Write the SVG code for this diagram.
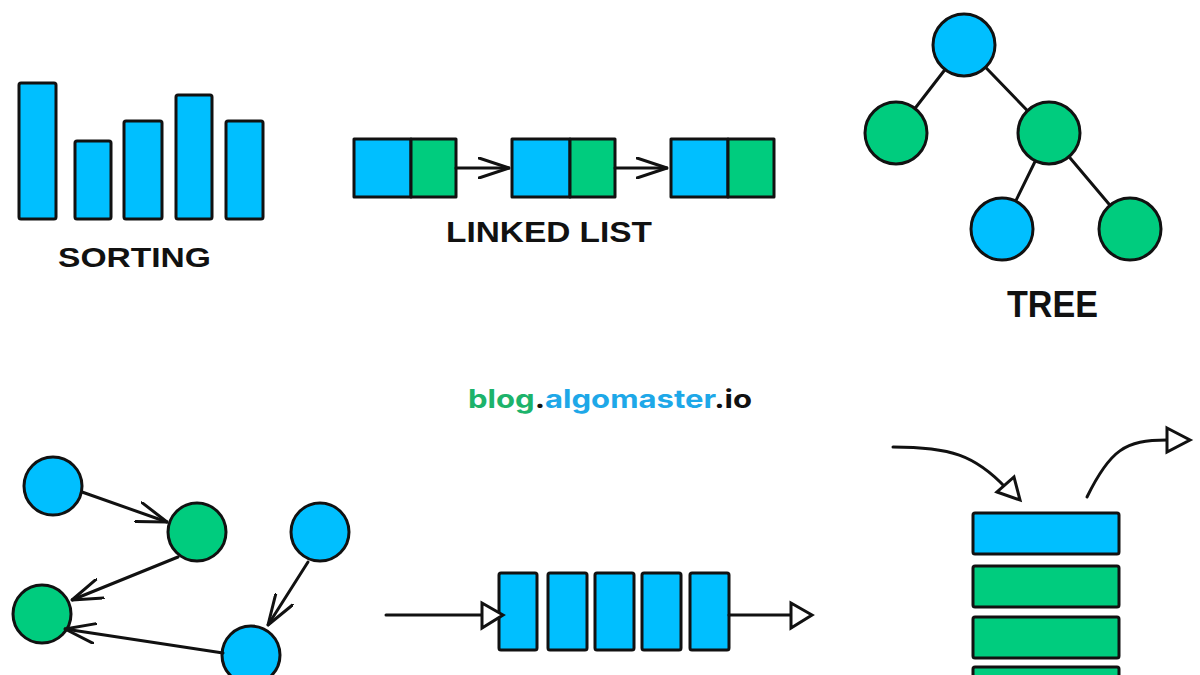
<svg xmlns="http://www.w3.org/2000/svg" width="1200" height="675" viewBox="0 0 1200 675">
<style>
.b{fill:#00bfff;stroke:#111;stroke-width:3;stroke-linejoin:round}
.g{fill:#00cc7e;stroke:#111;stroke-width:3;stroke-linejoin:round}
.ln{fill:none;stroke:#111;stroke-width:3;stroke-linecap:round}
.tri{fill:#fff;stroke:#111;stroke-width:3;stroke-linejoin:miter}
.lbl{font-family:"Liberation Sans","DejaVu Sans",sans-serif;font-weight:700;fill:#111}
.wm{font-family:Inter,"Liberation Sans",sans-serif;font-weight:700;font-size:25px}
</style>
<defs>
<marker id="v" viewBox="0 0 32 22" refX="31" refY="11" markerWidth="32" markerHeight="22" markerUnits="userSpaceOnUse" orient="auto">
<path d="M1 1 L31 11 L1 21" fill="none" stroke="#111" stroke-width="3" stroke-linecap="round" stroke-linejoin="round"/>
</marker>
</defs>
<rect width="1200" height="675" fill="#fff"/>

<g id="sorting">
<rect class="b" x="19" y="83" width="37" height="136" rx="2"/>
<rect class="b" x="75" y="141" width="36" height="78" rx="2"/>
<rect class="b" x="124" y="121" width="38" height="98" rx="2"/>
<rect class="b" x="176" y="95" width="36" height="124" rx="2"/>
<rect class="b" x="226" y="121" width="37" height="98" rx="2"/>
<text class="lbl" x="58" y="267" font-size="28" textLength="153" lengthAdjust="spacingAndGlyphs">SORTING</text>
</g>

<g id="linked-list">
<rect class="b" x="354" y="139" width="57" height="58"/>
<rect class="g" x="411" y="139" width="45" height="58"/>
<rect class="b" x="512" y="139" width="58" height="58"/>
<rect class="g" x="570" y="139" width="45" height="58"/>
<rect class="b" x="671" y="139" width="57" height="58"/>
<rect class="g" x="728" y="139" width="46" height="58"/>
<text class="lbl" x="446" y="242" font-size="30" textLength="206" lengthAdjust="spacingAndGlyphs">LINKED LIST</text>
</g>

<g id="tree">
<line class="ln" x1="964" y1="45" x2="896" y2="133"/>
<line class="ln" x1="964" y1="45" x2="1049" y2="133"/>
<line class="ln" x1="1049" y1="133" x2="1002" y2="229"/>
<line class="ln" x1="1049" y1="133" x2="1130" y2="229"/>
<circle class="b" cx="964" cy="45" r="31"/>
<circle class="g" cx="896" cy="133" r="31"/>
<circle class="g" cx="1049" cy="133" r="31"/>
<circle class="b" cx="1002" cy="229" r="31"/>
<circle class="g" cx="1130" cy="229" r="31"/>
<text class="lbl" x="1007" y="317" font-size="37" textLength="91" lengthAdjust="spacingAndGlyphs">TREE</text>
</g>

<g id="graph">
<circle class="b" cx="53" cy="486" r="29"/>
<circle class="g" cx="197" cy="532" r="29"/>
<circle class="b" cx="320" cy="532" r="29"/>
<circle class="g" cx="42" cy="614" r="29"/>
<circle class="b" cx="251" cy="655" r="29"/>
</g>

<g id="queue">
<rect class="b" x="499" y="573" width="38" height="77" rx="2"/>
<rect class="b" x="548" y="573" width="39" height="77" rx="2"/>
<rect class="b" x="595" y="573" width="39" height="77" rx="2"/>
<rect class="b" x="642" y="573" width="39" height="77" rx="2"/>
<rect class="b" x="690" y="573" width="39" height="77" rx="2"/>
</g>

<g id="stack">
<rect class="b" x="973" y="513" width="146" height="41" rx="2"/>
<rect class="g" x="973" y="566" width="146" height="41" rx="2"/>
<rect class="g" x="973" y="617" width="146" height="41" rx="2"/>
<rect class="g" x="973" y="667" width="146" height="41" rx="2"/>
</g>

<g id="connectors">
<line class="ln" x1="456" y1="168" x2="509" y2="168" marker-end="url(#v)"/>
<line class="ln" x1="615" y1="168" x2="667" y2="168" marker-end="url(#v)"/>
<line class="ln" x1="82" y1="492" x2="167" y2="522" marker-end="url(#v)"/>
<line class="ln" x1="178" y1="557" x2="72" y2="600" marker-end="url(#v)"/>
<line class="ln" x1="308" y1="562" x2="268" y2="625" marker-end="url(#v)"/>
<line class="ln" x1="223" y1="653" x2="65" y2="629" marker-end="url(#v)"/>
<line class="ln" x1="386" y1="615" x2="483" y2="615"/>
<polygon class="tri" points="482,603 503,615 482,628"/>
<line class="ln" x1="729" y1="615" x2="791" y2="615"/>
<polygon class="tri" points="791,603 812,615 791,628"/>
<path class="ln" d="M893 447 C950 447 975 455 1006 488"/>
<polygon class="tri" points="997,492 1020,500 1014,477"/>
<path class="ln" d="M1087 497 C1110 450 1125 440 1167 440"/>
<polygon class="tri" points="1167,428 1190,440 1167,452"/>
</g>

<text class="wm" x="468" y="408" textLength="284" lengthAdjust="spacingAndGlyphs"><tspan fill="#1db36b">blog</tspan><tspan fill="#111">.</tspan><tspan fill="#1ea8e8">algomaster</tspan><tspan fill="#111">.io</tspan></text>
</svg>
